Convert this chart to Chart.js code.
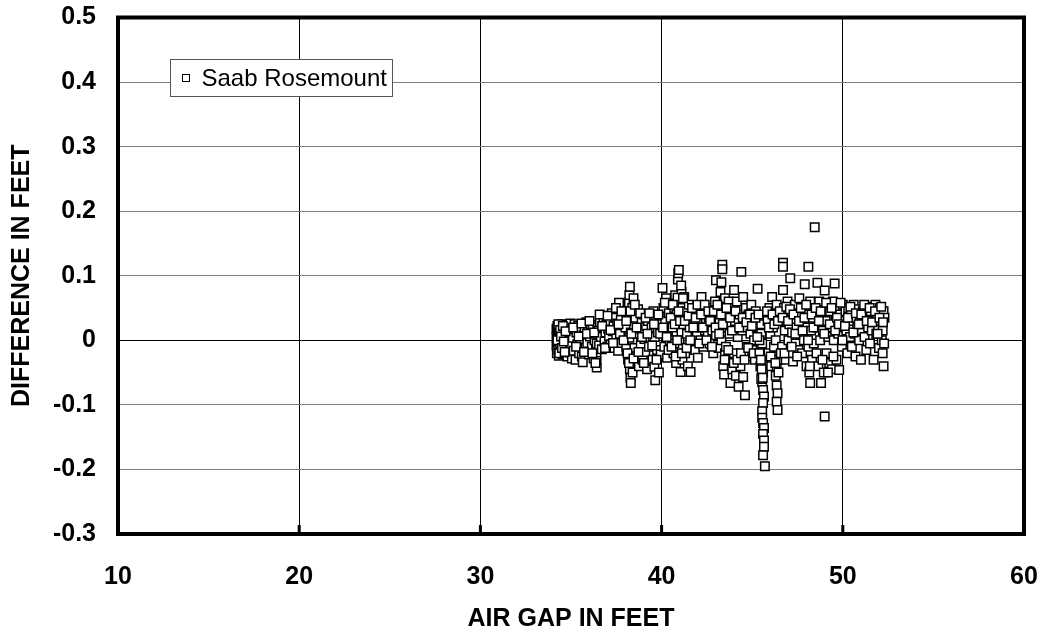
<!DOCTYPE html>
<html>
<head>
<meta charset="utf-8">
<script src="https://cdn.jsdelivr.net/npm/chart.js@4.4.1/dist/chart.umd.min.js"></script>
<style>
  html, body { margin: 0; padding: 0; background: #fff; }
</style>
</head>
<body>
<canvas id="gapChart" width="1043" height="635"></canvas>
<script>
const xTitle = 'AIR GAP IN FEET';
const yTitle = 'DIFFERENCE IN FEET';
const seriesName = 'Saab Rosemount';
const xTicks = [10, 20, 30, 40, 50, 60];
const yTicks = [-0.3, -0.2, -0.1, 0, 0.1, 0.2, 0.3, 0.4, 0.5];

// air gap (ft) of each sample left to right
const airGapFt = [
  34.2, 34.2, 34.2, 34.22, 34.25, 34.27, 34.28, 34.3, 34.32, 34.33,
  34.35, 34.38, 34.4, 34.42, 34.45, 34.47, 34.5, 34.52, 34.55, 34.57,
  34.6, 34.62, 34.65, 34.68, 34.7, 34.72, 34.75, 34.78, 34.8, 34.82,
  34.85, 34.87, 34.9, 34.92, 34.95, 34.97, 35.0, 35.02, 35.05, 35.08,
  35.1, 35.15, 35.2, 35.25, 35.3, 35.35, 35.4, 35.45, 35.5, 35.55,
  35.6, 35.65, 35.7, 35.75, 35.8, 35.85, 35.9, 35.95, 36.0, 36.05,
  36.1, 36.15, 36.2, 36.25, 36.3, 36.38, 36.4, 36.4, 36.42, 36.4,
  36.45, 36.42, 36.5, 36.55, 36.6, 36.65, 36.7, 36.75, 36.8, 36.85,
  36.9, 36.95, 37.0, 37.05, 37.1, 37.15, 37.2, 37.25, 37.3, 37.35,
  37.4, 37.45, 37.5, 37.55, 37.6, 37.65, 37.7, 37.75, 37.8, 38.0,
  38.05, 38.1, 38.15, 38.2, 38.22, 38.25, 38.25, 38.28, 38.3, 38.3,
  38.32, 38.35, 38.38, 38.4, 38.42, 38.45, 38.48, 38.5, 38.35, 38.22,
  38.18, 38.4, 38.55, 38.6, 38.65, 38.7, 38.75, 38.8, 38.85, 38.9,
  38.95, 39.0, 39.05, 39.1, 39.15, 39.2, 39.25, 39.3, 39.45, 39.5,
  39.55, 39.6, 39.62, 39.65, 39.7, 39.75, 39.8, 39.85, 39.9, 39.95,
  40.0, 40.05, 40.1, 40.15, 40.2, 40.25, 40.3, 40.35, 40.4, 40.45,
  40.6, 40.65, 40.7, 40.75, 40.8, 40.85, 40.9, 40.92, 40.95, 41.0,
  41.0, 41.05, 41.05, 41.1, 41.1, 41.15, 41.15, 41.2, 40.88, 40.98,
  40.7, 40.82, 41.08, 41.25, 41.3, 41.35, 41.4, 41.45, 41.5, 41.55,
  41.6, 41.65, 41.7, 41.8, 41.85, 41.9, 41.95, 42.0, 42.05, 42.1,
  42.15, 42.2, 42.25, 42.3, 42.35, 42.4, 42.45, 42.5, 42.55, 42.6,
  42.65, 42.7, 42.75, 42.8, 42.85, 42.9, 42.95, 43.0, 43.0, 43.05,
  43.1, 43.15, 43.2, 43.25, 43.3, 43.35, 43.35, 43.4, 43.4, 43.45,
  43.45, 43.5, 43.5, 43.55, 43.3, 43.55, 43.6, 43.65, 43.7, 43.75,
  43.8, 43.85, 43.9, 43.95, 44.0, 44.0, 44.05, 44.1, 44.15, 44.2,
  44.25, 44.3, 44.35, 44.4, 44.45, 44.5, 44.5, 44.55, 44.6, 44.65,
  44.7, 44.75, 44.8, 44.85, 44.9, 44.95, 45.0, 45.05, 45.1, 45.15,
  45.2, 45.25, 45.3, 45.45, 45.5, 45.5, 45.55, 45.55, 45.6, 45.6,
  45.55, 45.6, 45.65, 45.6, 45.55, 45.55, 45.6, 45.65, 45.6, 45.65,
  45.65, 45.6, 45.7, 45.45, 45.5, 45.4, 45.85, 45.9, 45.95, 46.0,
  46.05, 46.1, 46.15, 46.2, 46.25, 46.3, 46.35, 46.3, 46.35, 46.3,
  46.35, 46.4, 46.35, 46.4, 46.45, 46.45, 46.7, 46.7, 46.7, 47.1,
  46.6, 46.65, 46.75, 46.8, 46.85, 46.9, 46.95, 47.0, 47.05, 47.1,
  47.15, 47.2, 47.25, 47.3, 47.35, 47.4, 47.45, 47.5, 47.55, 47.6,
  47.65, 47.7, 47.75, 47.8, 47.85, 47.9, 47.95, 48.0, 48.05, 48.1,
  48.1, 48.15, 48.2, 48.2, 48.25, 48.3, 48.35, 48.4, 48.45, 48.6,
  48.6, 48.65, 48.7, 48.75, 48.8, 48.85, 48.9, 48.95, 49.0, 49.0,
  49.05, 49.1, 49.15, 49.2, 49.25, 49.3, 49.35, 49.4, 49.45, 49.5,
  49.55, 49.6, 49.65, 49.7, 49.75, 49.8, 49.85, 49.9, 49.95, 50.0,
  50.05, 50.1, 50.15, 50.2, 50.25, 50.3, 50.35, 50.4, 50.45, 50.5,
  50.55, 50.6, 50.65, 50.7, 50.75, 50.8, 50.85, 50.9, 50.95, 51.0,
  51.05, 51.1, 51.15, 51.2, 51.25, 51.3, 51.35, 51.4, 51.45, 51.5,
  51.55, 51.6, 51.65, 51.7, 51.75, 51.8, 51.85, 51.9, 51.95, 52.0,
  52.05, 52.1, 52.15, 52.2, 52.2, 52.25, 52.25, 52.3,
  // second pass through the dense band
  34.25, 34.3, 34.35, 34.4, 34.45, 34.5, 34.55, 34.6, 34.65, 34.7,
  35.12, 35.28, 35.42, 35.58, 35.72, 35.88, 36.02, 36.18, 36.28, 36.35,
  36.58, 36.72, 36.88, 37.02, 37.18, 37.32, 37.48, 37.62, 37.78, 37.9,
  38.05, 38.12, 38.2, 38.28, 38.33, 38.45, 38.52, 38.62, 38.72, 38.82,
  38.92, 39.02, 39.12, 39.22, 39.32, 39.48, 39.58, 39.72, 39.82, 39.92,
  40.08, 40.18, 40.28, 40.38, 40.5, 40.55, 40.62, 40.72, 40.78, 40.86,
  40.94, 41.02, 41.12, 41.18, 41.28, 41.38, 41.48, 41.58, 41.68, 41.75,
  41.88, 41.98, 42.08, 42.18, 42.28, 42.38, 42.48, 42.58, 42.68, 42.78,
  42.88, 42.98, 43.08, 43.18, 43.28, 43.38, 43.48, 43.58, 43.68, 43.78,
  43.88, 43.98, 44.08, 44.18, 44.28, 44.38, 44.48, 44.58, 44.68, 44.78,
  44.88, 44.98, 45.08, 45.18, 45.28, 45.35, 45.4, 45.48, 45.52, 45.58,
  45.82, 45.92, 46.02, 46.12, 46.22, 46.28, 46.42, 46.52, 46.58, 46.68,
  46.78, 46.88, 46.98, 47.08, 47.18, 47.28, 47.38, 47.48, 47.58, 47.68,
  47.78, 47.88, 47.98, 48.08, 48.18, 48.28, 48.38, 48.5, 48.55, 48.68,
  48.78, 48.88, 48.98, 49.08, 49.18, 49.28, 49.38, 49.48, 49.58, 49.68,
  49.78, 49.88, 49.98, 50.12, 50.28, 50.42, 50.58, 50.72, 50.88, 51.02,
  51.18, 51.32, 51.48, 51.62, 51.78, 51.92, 52.02, 52.12, 52.22, 52.28
];

// difference (ft) for the same samples, same order
const diffFt = [
  0.018, 0.005, -0.008, -0.02, 0.022, 0.01, -0.003, -0.015, 0.015, -0.024,
  0.002, 0.02, -0.01, 0.008, -0.018, 0.025, 0.0, -0.022, 0.012, -0.006,
  0.019, -0.014, 0.004, 0.024, -0.02, 0.01, -0.004, 0.016, -0.025, 0.006,
  0.021, -0.012, 0.0, 0.014, -0.019, 0.026, -0.008, 0.01, -0.028, 0.018,
  0.004, -0.016, 0.025, -0.03, 0.012, -0.006, 0.022, -0.02, 0.002, 0.016,
  -0.025, -0.034, 0.008, 0.02, -0.012, 0.028, -0.004, 0.014, -0.022, 0.006,
  0.024, -0.01, 0.018, -0.028, 0.0, -0.015, -0.025, -0.032, -0.042, 0.01,
  0.02, -0.005, 0.015, -0.008, 0.028, 0.005, -0.014, 0.02, 0.034, -0.002,
  0.012, 0.025, -0.01, 0.018, 0.006, 0.03, -0.006, 0.042, 0.014, 0.022,
  -0.012, 0.035, 0.003, 0.026, -0.016, 0.058, 0.01, 0.032, -0.004, 0.02,
  -0.01, 0.045, -0.03, 0.058, 0.07, 0.083, -0.045, -0.058, -0.066, 0.012,
  0.03, -0.02, 0.05, 0.0, -0.038, 0.065, 0.024, -0.012, 0.04, 0.004,
  0.034, -0.05, 0.035, -0.025, 0.01, 0.048, -0.04, 0.018, -0.008, 0.028,
  -0.03, 0.04, 0.002, -0.018, 0.022, -0.045, 0.03, -0.01, 0.02, -0.03,
  0.045, -0.041, 0.005, -0.062, 0.03, -0.015, 0.012, -0.05, 0.038, -0.022,
  0.025, 0.081, 0.05, -0.01, 0.03, 0.065, -0.027, 0.015, 0.042, 0.0,
  0.02, -0.02, 0.05, 0.07, -0.035, 0.03, 0.094, 0.104, 0.109, 0.06,
  -0.01, -0.049, 0.04, 0.075, 0.012, -0.03, 0.05, 0.025, 0.066, 0.0,
  -0.005, 0.04, 0.085, 0.067, -0.02, 0.045, 0.01, -0.04, 0.055, 0.02,
  -0.049, 0.035, -0.008, 0.03, -0.015, 0.05, 0.012, -0.027, 0.04, 0.02,
  0.0, 0.067, 0.028, -0.01, 0.045, 0.015, 0.03, 0.02, 0.01, 0.035,
  -0.005, 0.025, 0.05, 0.015, -0.02, 0.03, 0.06, 0.093, 0.008, 0.04,
  0.022, -0.012, 0.03, 0.075, 0.09, 0.117, 0.11, 0.05, -0.04, 0.02,
  -0.053, 0.065, -0.02, 0.035, 0.0, -0.01, 0.04, -0.03, 0.06, 0.01,
  -0.066, 0.025, -0.045, 0.05, 0.078, -0.02, 0.03, -0.055, 0.06, 0.005,
  -0.072, 0.04, -0.04, 0.106, 0.015, 0.067, -0.057, 0.03, -0.085, 0.05,
  -0.01, 0.02, 0.04, -0.025, 0.01, 0.055, -0.015, 0.03, 0.0, -0.03,
  0.045, 0.02, 0.08, 0.036, 0.025, 0.01, -0.005, -0.02, -0.035, -0.05,
  -0.065, -0.077, -0.087, -0.097, -0.11, -0.12, -0.128, -0.136, -0.145, -0.155,
  -0.165, -0.178, -0.195, -0.04, -0.06, 0.0, 0.03, -0.02, 0.05, 0.01,
  -0.04, 0.067, 0.02, -0.01, 0.04, 0.0, 0.055, -0.025, -0.04, -0.055,
  -0.07, -0.082, -0.095, -0.108, -0.05, -0.03, 0.12, 0.114, 0.078, 0.096,
  0.03, -0.01, 0.05, 0.015, -0.03, 0.04, 0.06, 0.0, 0.025, -0.02,
  0.045, 0.012, -0.033, 0.03, 0.055, -0.005, 0.02, 0.04, -0.015, 0.065,
  0.01, 0.03, -0.02, 0.05, 0.0, 0.087, 0.02, -0.04, 0.04, 0.114,
  -0.01, -0.05, -0.066, 0.06, 0.015, -0.03, 0.035, -0.005, 0.175, 0.089,
  0.02, -0.04, 0.06, 0.0, -0.066, 0.04, 0.015, -0.05, -0.118, 0.077,
  0.03, -0.02, 0.05, 0.005, -0.035, 0.045, 0.02, -0.045, 0.06, 0.0,
  0.088, 0.03, -0.03, 0.05, 0.01, -0.046, 0.04, 0.02, -0.01, 0.055,
  0.03, 0.0, 0.045, 0.015, -0.02, 0.05, 0.025, 0.005, 0.04, -0.01,
  0.03, 0.055, 0.01, -0.025, 0.035, 0.02, 0.048, 0.0, 0.03, -0.03,
  0.015, 0.045, 0.025, 0.005, 0.038, -0.015, 0.052, 0.02, 0.035, -0.005,
  0.045, 0.015, 0.05, -0.03, 0.03, 0.055, 0.01, 0.04, 0.022, -0.012,
  0.05, 0.03, 0.0, -0.02, 0.015, -0.04, 0.045, 0.035,
  // second pass through the dense band
  0.0, 0.025, -0.02, 0.016, 0.006, -0.012, 0.022, -0.002, -0.018, 0.014,
  0.02, -0.01, 0.006, 0.026, -0.018, 0.01, 0.03, -0.02, 0.012, -0.035,
  0.04, 0.022, -0.012, 0.038, 0.016, -0.004, 0.05, 0.025, 0.045, 0.0,
  0.03, -0.02, -0.035, 0.045, 0.01, -0.028, 0.055, 0.02, -0.018, 0.042,
  0.005, -0.035, 0.035, 0.01, 0.042, -0.008, 0.025, -0.03, 0.04, 0.01,
  0.02, 0.058, 0.005, -0.015, 0.035, -0.01, 0.055, 0.025, -0.025, 0.0,
  0.045, 0.03, -0.02, 0.065, 0.03, -0.012, 0.038, 0.0, 0.05, 0.02,
  0.035, 0.055, -0.005, 0.04, 0.02, 0.055, 0.0, 0.045, 0.03, -0.01,
  0.045, 0.02, 0.055, 0.01, 0.04, 0.025, -0.03, 0.05, -0.015, 0.035,
  0.015, -0.035, 0.045, -0.03, 0.02, -0.02, 0.035, -0.03, 0.028, -0.012,
  0.04, 0.022, -0.02, 0.035, 0.005, 0.04, -0.02, -0.03, -0.045, -0.058,
  0.045, 0.02, -0.025, 0.04, 0.025, -0.035, 0.03, 0.045, -0.02, 0.035,
  -0.02, 0.052, 0.03, 0.048, -0.01, 0.04, 0.01, -0.025, 0.03, 0.05,
  0.015, 0.035, 0.055, 0.0, -0.04, 0.04, 0.02, 0.05, -0.02, 0.03,
  0.045, -0.03, 0.01, 0.058, -0.05, 0.025, 0.05, -0.025, 0.015, 0.035,
  0.025, 0.058, 0.0, 0.022, 0.035, 0.052, 0.012, 0.042, 0.025, 0.04,
  0.055, 0.03, 0.05, 0.028, 0.045, 0.01, 0.035, 0.052, 0.028, -0.005
];

const FONT = 'Arial, "Liberation Sans", Helvetica, sans-serif';

// heavy frame round the plot + short inner tick marks on the x axis
const framePlugin = {
  id: 'frame',
  afterDatasetsDraw(chart) {
    const { ctx, chartArea: a, scales } = chart;
    ctx.save();
    ctx.strokeStyle = '#000';
    ctx.lineWidth = 4;
    ctx.strokeRect(a.left, a.top, a.right - a.left, a.bottom - a.top);
    ctx.lineWidth = 3;
    xTicks.slice(1, -1).forEach(v => {
      const px = scales.x.getPixelForValue(v);
      ctx.beginPath();
      ctx.moveTo(px, a.bottom);
      ctx.lineTo(px, a.bottom - 9);
      ctx.stroke();
    });
    ctx.restore();
  }
};

// boxed legend floating inside the plot, like the original
const legendBox = {
  id: 'legendBox',
  afterDatasetsDraw(chart) {
    const { ctx, chartArea: a } = chart;
    const ds = chart.data.datasets[0];
    const x0 = Math.round(a.left + 52) + 0.5;
    const y0 = Math.round(a.top + 41.5) + 0.5;
    const w = 222, h = 37;
    ctx.save();
    ctx.fillStyle = '#fff';
    ctx.fillRect(x0, y0, w, h);
    ctx.strokeStyle = '#555';
    ctx.lineWidth = 1;
    ctx.strokeRect(x0, y0, w, h);
    ctx.fillRect(x0 + 12, y0 + h / 2 - 3.5, 7, 7);
    ctx.strokeStyle = '#000';
    ctx.strokeRect(x0 + 12, y0 + h / 2 - 3.5, 7, 7);
    ctx.fillStyle = '#000';
    ctx.font = '24px ' + FONT;
    ctx.textBaseline = 'middle';
    ctx.fillText(ds.label, x0 + 31, y0 + h / 2 + 1);
    ctx.restore();
  }
};

new Chart(document.getElementById('gapChart'), {
  type: 'scatter',
  data: {
    datasets: [{
      label: seriesName,
      data: airGapFt.map((x, i) => ({ x: x, y: diffFt[i] })),
      pointStyle: 'rect',
      pointRadius: 6,
      pointHoverRadius: 6,
      pointBackgroundColor: '#fff',
      pointBorderColor: '#000',
      pointBorderWidth: 1.5
    }]
  },
  options: {
    responsive: false,
    animation: false,
    layout: { padding: { top: 17.5, right: 19, left: 0, bottom: 0 } },
    plugins: {
      legend: { display: false },
      tooltip: { enabled: false }
    },
    scales: {
      x: {
        type: 'linear',
        min: 10,
        max: 60,
        afterBuildTicks: s => { s.ticks = xTicks.map(v => ({ value: v })); },
        afterFit: s => { s.height = 101; },
        grid: { color: '#000', lineWidth: 1, drawTicks: true, tickLength: 27, tickColor: 'rgba(0,0,0,0)' },
        border: { display: false },
        ticks: {
          padding: 1,
          color: '#000',
          font: { family: FONT, size: 25, weight: 'bold' }
        },
        title: {
          display: true,
          text: xTitle,
          color: '#000',
          font: { family: FONT, size: 25, weight: 'bold' },
          padding: { top: 0, bottom: 1 }
        }
      },
      y: {
        type: 'linear',
        min: -0.3,
        max: 0.5,
        afterBuildTicks: s => { s.ticks = yTicks.map(v => ({ value: v })); },
        afterFit: s => { s.width = 118; },
        grid: {
          color: c => (c.tick && c.tick.value === 0 ? '#000' : '#808080'),
          lineWidth: 1,
          drawTicks: true,
          tickLength: 21,
          tickColor: 'rgba(0,0,0,0)'
        },
        border: { display: false },
        ticks: {
          padding: 1,
          color: '#000',
          font: { family: FONT, size: 25, weight: 'bold' },
          callback: v => String(Number(v.toFixed(1)))
        },
        title: {
          display: true,
          text: yTitle,
          color: '#000',
          font: { family: FONT, size: 25, weight: 'bold' },
          padding: { top: 7.5, bottom: 0 }
        }
      }
    }
  },
  plugins: [framePlugin, legendBox]
});
</script>
</body>
</html>
